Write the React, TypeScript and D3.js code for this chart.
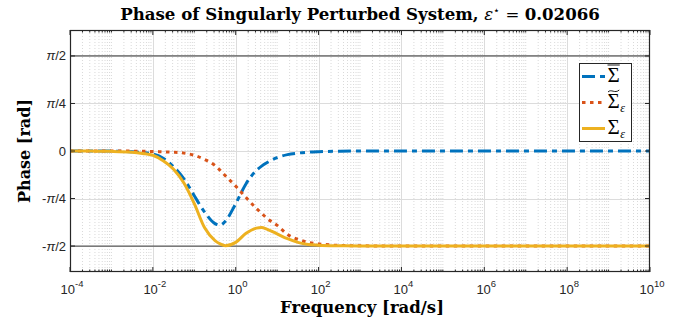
import React, { useEffect, useRef } from 'react';
import * as d3 from 'd3';

// log10 of frequency [rad/s]
const logFreq = [-4, -3.5, -3, -2.5, -2.25, -2, -1.75, -1.5, -1.25, -1, -0.75, -0.5, -0.375, -0.25, 0, 0.25, 0.5, 0.625, 0.75, 1, 1.25, 1.5, 1.75, 2, 2.5, 3, 4, 6, 8, 10];
// phase [rad]
const phaseBar = [0, 0, -0.002, -0.012, -0.025, -0.05, -0.12, -0.26, -0.46, -0.74, -1.01, -1.2, -1.225, -1.16, -0.87, -0.54, -0.32, -0.25, -0.195, -0.11, -0.06, -0.035, -0.02, -0.012, -0.004, -0.001, 0, 0, 0, 0];
const phaseTilde = [0, 0, 0, -0.002, -0.004, -0.008, -0.013, -0.02, -0.035, -0.07, -0.14, -0.24, -0.32, -0.41, -0.58, -0.77, -0.95, -1.03, -1.11, -1.23, -1.38, -1.46, -1.51, -1.535, -1.56, -1.567, -1.5708, -1.5708, -1.5708, -1.5708];
const phaseEps = [0, -0.002, -0.006, -0.02, -0.04, -0.07, -0.16, -0.3, -0.53, -0.87, -1.27, -1.48, -1.535, -1.565, -1.51, -1.36, -1.275, -1.265, -1.29, -1.37, -1.45, -1.51, -1.545, -1.557, -1.566, -1.569, -1.5708, -1.5708, -1.5708, -1.5708];

const xTickExps = [-4, -2, 0, 2, 4, 6, 8, 10];
const yTickVals = [-Math.PI / 2, -Math.PI / 4, 0, Math.PI / 4, Math.PI / 2];
const yTickLabels = ['-π/2', '-π/4', '0', 'π/4', 'π/2'];
const refLines = [-Math.PI / 2, Math.PI / 2];

const sans = "'Liberation Sans', Arial, Helvetica, sans-serif";
const serif = "'DejaVu Serif', 'Liberation Serif', serif";
const lserif = "'Liberation Serif', serif";

const App = () => {
  const svgRef = useRef<SVGSVGElement>(null);

  useEffect(() => {
    document.body.style.margin = '0';
    const svg = d3.select(svgRef.current);
    svg.selectAll('*').remove();

    const left = 70, right = 650, top = 30, bottom = 272;
    const x = d3.scaleLog().domain([1e-4, 1e10]).range([left, right]);
    const y = d3.scaleLinear().domain([-2, 2]).range([bottom, top]);
    const axisColor = '#262626';

    svg.append('rect').attr('width', 680).attr('height', 320).attr('fill', '#fff');

    // grid
    const minor: number[] = [];
    for (let e = -4; e < 10; e++) {
      for (let k = 1; k <= 9; k++) {
        if (k === 1 && e % 2 === 0) continue;
        minor.push(k * Math.pow(10, e));
      }
    }
    const major = xTickExps.map(e => Math.pow(10, e));

    const grid = svg.append('g');
    grid.selectAll('line.minor')
      .data(minor)
      .join('line')
      .attr('x1', d => x(d)).attr('x2', d => x(d))
      .attr('y1', top).attr('y2', bottom)
      .attr('stroke', '#cfcfcf')
      .attr('stroke-width', 0.8)
      .attr('stroke-dasharray', '1 2');
    grid.selectAll('line.major')
      .data(major.slice(1, -1))
      .join('line')
      .attr('x1', d => Math.round(x(d)) + 0.5).attr('x2', d => Math.round(x(d)) + 0.5)
      .attr('y1', top).attr('y2', bottom)
      .attr('stroke', '#dcdcdc');
    grid.selectAll('line.h')
      .data(yTickVals)
      .join('line')
      .attr('x1', left).attr('x2', right)
      .attr('y1', d => Math.round(y(d)) + 0.5).attr('y2', d => Math.round(y(d)) + 0.5)
      .attr('stroke', '#dcdcdc');

    // reference lines at +-pi/2
    svg.append('g')
      .selectAll('line')
      .data(refLines)
      .join('line')
      .attr('x1', left).attr('x2', right)
      .attr('y1', d => y(d)).attr('y2', d => y(d))
      .attr('stroke', '#5a5a5a')
      .attr('stroke-width', 1.3);

    // curves
    svg.append('clipPath').attr('id', 'plotclip')
      .append('rect').attr('x', left).attr('y', top).attr('width', right - left).attr('height', bottom - top);

    const series = [
      { vals: phaseBar, color: '#0072BD', dash: '13 5 5 5' },
      { vals: phaseTilde, color: '#D95319', dash: '3.5 4.5' },
      { vals: phaseEps, color: '#EDB120', dash: null },
    ];
    const line = d3.line<[number, number]>()
      .x(d => x(Math.pow(10, d[0])))
      .y(d => y(d[1]))
      .curve(d3.curveMonotoneX);

    const curves = svg.append('g').attr('clip-path', 'url(#plotclip)');
    series.forEach(s => {
      curves.append('path')
        .attr('d', line(logFreq.map((f, i) => [f, s.vals[i]] as [number, number])))
        .attr('fill', 'none')
        .attr('stroke', s.color)
        .attr('stroke-width', 3)
        .attr('stroke-dasharray', s.dash);
    });

    // axes box + ticks
    const axes = svg.append('g').attr('stroke', axisColor).attr('fill', 'none');
    axes.append('rect')
      .attr('x', left + 0.5).attr('y', top + 0.5)
      .attr('width', right - left - 1).attr('height', bottom - top - 1)
      .attr('stroke-width', 1.2);
    const xt = (vals: number[], len: number) => {
      vals.forEach(v => {
        const px = x(v);
        axes.append('line').attr('x1', px).attr('x2', px).attr('y1', bottom).attr('y2', bottom - len);
        axes.append('line').attr('x1', px).attr('x2', px).attr('y1', top).attr('y2', top + len);
      });
    };
    xt(major, 5);
    xt(minor, 2.5);
    yTickVals.forEach(v => {
      const py = y(v);
      axes.append('line').attr('x1', left).attr('x2', left + 5).attr('y1', py).attr('y2', py);
      axes.append('line').attr('x1', right).attr('x2', right - 5).attr('y1', py).attr('y2', py);
    });

    // x tick labels
    const xl = svg.append('g')
      .attr('font-family', sans)
      .attr('font-size', 13)
      .attr('fill', axisColor)
      .attr('text-anchor', 'middle');
    xTickExps.forEach(e => {
      const t = xl.append('text').attr('x', x(Math.pow(10, e)) + 2).attr('y', 294);
      t.append('tspan').text('10');
      t.append('tspan').attr('font-size', 9.5).attr('dy', -7).text(String(e));
    });

    // y tick labels
    const yl = svg.append('g')
      .attr('font-family', sans)
      .attr('font-size', 13)
      .attr('fill', axisColor)
      .attr('text-anchor', 'end');
    yTickVals.forEach((v, i) => {
      const t = yl.append('text').attr('x', 66).attr('y', y(v) + 4.5);
      const parts = yTickLabels[i].split('π');
      parts.forEach((p, j) => {
        if (j > 0) t.append('tspan').attr('font-style', 'italic').text('π');
        if (p) t.append('tspan').text(p);
      });
    });

    // axis labels
    svg.append('text')
      .attr('x', 362)
      .attr('y', 313)
      .attr('text-anchor', 'middle')
      .attr('font-family', serif)
      .attr('font-weight', 'bold')
      .attr('font-size', 16.5)
      .attr('fill', '#000')
      .text('Frequency [rad/s]');

    svg.append('text')
      .attr('transform', `translate(30,${(top + bottom) / 2}) rotate(-90)`)
      .attr('text-anchor', 'middle')
      .attr('font-family', serif)
      .attr('font-weight', 'bold')
      .attr('font-size', 16)
      .attr('fill', '#000')
      .text('Phase [rad]');

    // title
    const title = svg.append('text')
      .attr('x', 360)
      .attr('y', 20)
      .attr('text-anchor', 'middle')
      .attr('font-family', serif)
      .attr('font-size', 16.6)
      .attr('fill', '#000');
    title.append('tspan').attr('font-weight', 'bold').text('Phase of Singularly Perturbed System, ');
    title.append('tspan').attr('font-style', 'italic').text('ε');
    title.append('tspan').attr('font-size', 11).attr('dy', -6).text('⋆');
    title.append('tspan').attr('dy', 6).text(' = ');
    title.append('tspan').attr('font-weight', 'bold').text('0.02066');

    // legend
    const lg = svg.append('g');
    lg.append('rect')
      .attr('x', 579.5).attr('y', 63.5).attr('width', 52).attr('height', 78)
      .attr('fill', '#fff').attr('stroke', axisColor).attr('stroke-width', 1);
    const rowsY = [76.5, 102.5, 128.5];
    series.forEach((s, i) => {
      lg.append('line')
        .attr('x1', 582).attr('x2', 605)
        .attr('y1', rowsY[i]).attr('y2', rowsY[i])
        .attr('stroke', s.color)
        .attr('stroke-width', 3)
        .attr('stroke-dasharray', s.dash);
      const sigma = lg.append('text')
        .attr('x', 607.5).attr('y', rowsY[i] + 5.5)
        .attr('font-family', lserif)
        .attr('font-size', 21)
        .attr('fill', '#000')
        .text('Σ');
      const w = (sigma.node() as SVGTextElement).getComputedTextLength();
      const x0 = 607.5;
      if (i === 0) {
        lg.append('line')
          .attr('x1', x0).attr('x2', x0 + w)
          .attr('y1', rowsY[i] - 11.5).attr('y2', rowsY[i] - 11.5)
          .attr('stroke', '#000').attr('stroke-width', 0.9);
      }
      if (i === 1) {
        const ty = rowsY[i] - 11.5;
        lg.append('path')
          .attr('d', `M${x0 + 0.5},${ty + 1} C${x0 + w * 0.3},${ty - 2.5} ${x0 + w * 0.6},${ty + 3} ${x0 + w - 0.5},${ty - 1}`)
          .attr('fill', 'none')
          .attr('stroke', '#000')
          .attr('stroke-width', 0.9);
      }
      if (i > 0) {
        lg.append('text')
          .attr('x', x0 + w + 0.5).attr('y', rowsY[i] + 9)
          .attr('font-family', lserif)
          .attr('font-style', 'italic')
          .attr('font-size', 12)
          .attr('fill', '#000')
          .text('ε');
      }
    });
  }, []);

  return (
    <svg ref={svgRef} width={680} height={320} style={{ display: 'block' }}></svg>
  );
};

export default App;
